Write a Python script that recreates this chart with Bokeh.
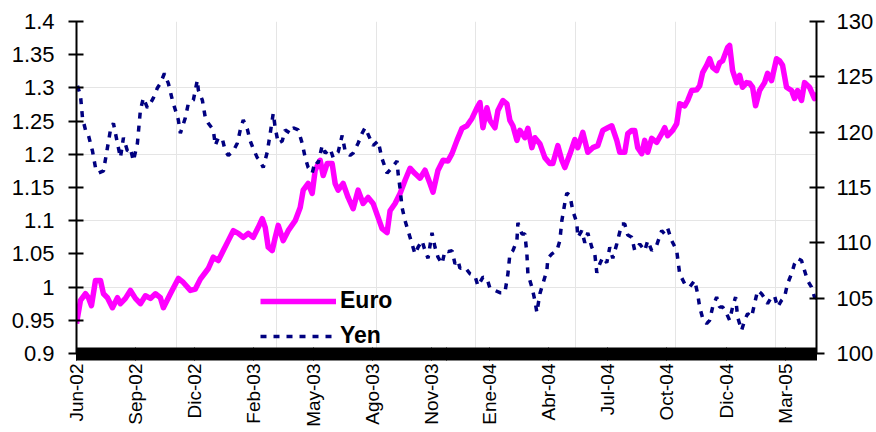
from bokeh.plotting import figure
from bokeh.models import (Range1d, LinearAxis, FixedTicker, CustomJSTickFormatter,
                          Legend, LegendItem)
from bokeh.embed import file_html
from bokeh.resources import INLINE

# ---------------- data ----------------
n_days = 742  # daily observations, Jun-02 .. Apr-05

label_days = [0, 59, 118, 177, 237, 296, 355, 414, 473, 532, 591, 651, 710]
tick_labels = ["Jun-02", "Sep-02", "Dic-02", "Feb-03", "May-03", "Ago-03", "Nov-03",
               "Ene-04", "Abr-04", "Jul-04", "Oct-04", "Dic-04", "Mar-05"]

euro_day = [0, 4, 9, 12, 15, 19, 24, 27, 31, 36, 41, 44, 49, 54, 59, 64, 69, 74, 79, 84,
            87, 94, 102, 107, 114, 119, 124, 129, 132, 137, 142, 147, 152, 157, 162, 167,
            172, 177, 182, 186, 189, 192, 196, 199, 202, 207, 212, 219, 224, 227, 232, 236,
            239, 244, 247, 251, 256, 259, 262, 267, 272, 277, 282, 287, 292, 297, 302, 306,
            311, 314, 319, 324, 329, 334, 339, 344, 349, 354, 357, 362, 367, 372, 376, 381,
            386, 391, 396, 401, 404, 407, 411, 414, 419, 422, 427, 431, 434, 437, 441, 444,
            449, 452, 456, 459, 464, 469, 474, 477, 482, 486, 489, 494, 499, 502, 507, 512,
            517, 522, 527, 532, 536, 541, 544, 549, 552, 556, 559, 562, 566, 569, 572, 576,
            581, 586, 589, 592, 597, 601, 604, 609, 612, 616, 621, 624, 627, 631, 634, 637,
            641, 644, 647, 652, 654, 657, 661, 664, 667, 671, 674, 677, 680, 684, 689, 692,
            696, 701, 704, 707, 711, 716, 719, 722, 726, 729, 734, 739, 741]
euro = [0.945, 0.980, 0.990, 0.984, 0.972, 1.010, 1.010, 0.990, 0.984, 0.969, 0.984, 0.975,
        0.983, 0.995, 0.983, 0.975, 0.987, 0.983, 0.990, 0.984, 0.969, 0.990, 1.013, 1.007,
        0.995, 0.997, 1.012, 1.022, 1.028, 1.045, 1.040, 1.055, 1.070, 1.085, 1.081, 1.075,
        1.081, 1.075, 1.090, 1.103, 1.090, 1.060, 1.055, 1.075, 1.093, 1.070, 1.085, 1.100,
        1.120, 1.146, 1.156, 1.141, 1.176, 1.191, 1.168, 1.186, 1.186, 1.156, 1.146, 1.156,
        1.135, 1.118, 1.146, 1.126, 1.135, 1.126, 1.105, 1.088, 1.082, 1.115, 1.126, 1.141,
        1.161, 1.179, 1.171, 1.164, 1.176, 1.156, 1.143, 1.176, 1.191, 1.190, 1.201, 1.221,
        1.239, 1.243, 1.254, 1.270, 1.278, 1.240, 1.270, 1.251, 1.240, 1.266, 1.281, 1.276,
        1.251, 1.243, 1.221, 1.236, 1.225, 1.239, 1.210, 1.225, 1.216, 1.195, 1.186, 1.186,
        1.213, 1.191, 1.180, 1.200, 1.222, 1.210, 1.233, 1.203, 1.210, 1.213, 1.236, 1.240,
        1.243, 1.221, 1.203, 1.203, 1.231, 1.236, 1.236, 1.210, 1.201, 1.221, 1.203, 1.224,
        1.218, 1.231, 1.240, 1.228, 1.236, 1.246, 1.276, 1.273, 1.281, 1.296, 1.297, 1.303,
        1.323, 1.334, 1.344, 1.331, 1.326, 1.338, 1.341, 1.361, 1.364, 1.326, 1.308, 1.319,
        1.301, 1.308, 1.307, 1.301, 1.273, 1.296, 1.308, 1.322, 1.311, 1.344, 1.341, 1.334,
        1.301, 1.296, 1.284, 1.296, 1.281, 1.308, 1.301, 1.284, 1.293]

yen_day = [1, 4, 6, 9, 12, 16, 19, 22, 27, 31, 34, 37, 41, 44, 47, 51, 54, 57, 61, 64, 67,
           71, 74, 77, 81, 84, 88, 92, 96, 99, 102, 104, 109, 112, 117, 121, 122, 126, 129,
           132, 137, 139, 142, 146, 149, 152, 157, 161, 164, 167, 171, 174, 177, 181, 184,
           187, 191, 194, 197, 199, 202, 206, 209, 214, 217, 222, 226, 229, 232, 236, 239,
           242, 246, 249, 254, 257, 262, 266, 269, 274, 277, 282, 286, 289, 294, 297, 302,
           306, 311, 316, 321, 322, 324, 326, 329, 332, 336, 339, 342, 346, 349, 352, 356,
           359, 362, 366, 369, 372, 376, 379, 382, 384, 389, 394, 399, 402, 407, 411, 414,
           419, 424, 429, 432, 434, 437, 441, 442, 446, 449, 451, 452, 456, 459, 461, 464,
           467, 471, 472, 476, 481, 484, 486, 489, 491, 494, 497, 501, 502, 506, 509, 512,
           516, 519, 521, 524, 527, 531, 534, 537, 541, 546, 549, 552, 556, 559, 564, 569,
           572, 576, 581, 586, 589, 592, 596, 601, 604, 609, 614, 619, 622, 624, 627, 631,
           634, 637, 641, 644, 647, 651, 654, 657, 660, 662, 666, 669, 672, 676, 679, 682,
           686, 689, 692, 696, 699, 702, 706, 709, 712, 716, 719, 722, 726, 729, 732, 736,
           739, 741]
yen = [124.2, 123.3, 121.3, 120.2, 119.7, 118.3, 116.8, 116.3, 116.5, 118.6, 120.2, 120.8,
       119.0, 117.7, 119.5, 118.3, 118.5, 117.4, 119.0, 122.0, 123.1, 122.2, 122.6, 123.1,
       124.0, 124.4, 125.3, 124.4, 122.9, 122.0, 121.1, 119.9, 121.3, 122.6, 122.9, 124.7,
       123.8, 122.9, 121.3, 120.8, 120.2, 118.8, 119.5, 119.4, 118.3, 117.9, 118.3, 119.0,
       120.2, 121.1, 120.3, 119.2, 118.5, 117.7, 117.4, 116.8, 118.2, 119.9, 121.7, 120.4,
       119.0, 119.2, 120.2, 119.9, 120.4, 120.2, 119.0, 117.7, 116.8, 116.3, 117.4, 117.2,
       118.8, 118.1, 118.5, 117.7, 118.2, 119.7, 118.3, 117.9, 118.1, 119.0, 119.9, 120.4,
       119.4, 118.8, 119.2, 117.6, 116.3, 116.8, 117.4, 116.3, 114.9, 113.2, 112.0, 111.1,
       109.9, 109.0, 109.6, 110.2, 109.3, 108.6, 110.9, 109.6, 108.7, 108.1, 109.3, 109.2,
       109.3, 108.1, 108.4, 107.7, 107.8, 107.2, 107.0, 106.1, 106.9, 106.8, 105.9, 105.7,
       105.5, 105.5, 107.2, 109.0, 109.3, 110.2, 111.8, 110.8, 110.8, 109.0, 107.2, 106.0,
       104.8, 103.7, 105.4, 106.3, 107.5, 108.6, 109.0, 109.3, 110.2, 112.0, 113.6, 114.5,
       114.3, 112.9, 111.8, 110.5, 111.1, 110.0, 110.9, 109.6, 109.0, 107.3, 108.1, 108.7,
       108.2, 109.6, 108.6, 109.9, 111.7, 111.7, 110.7, 110.5, 109.3, 109.9, 109.3, 110.2,
       109.3, 109.8, 111.1, 110.8, 111.3, 110.2, 109.3, 107.2, 106.3, 106.0, 106.6, 105.4,
       104.2, 103.2, 102.7, 103.0, 104.2, 105.1, 104.2, 104.2, 103.6, 103.0, 104.2, 105.1,
       103.3, 102.1, 103.0, 103.6, 103.3, 104.5, 105.7, 105.4, 105.0, 104.5, 105.1, 105.2,
       104.2, 104.8, 105.1, 106.3, 107.2, 108.1, 108.6, 108.4, 107.5, 106.6, 106.0, 105.1,
       105.0]

euro_ticks = [0.9, 0.95, 1.0, 1.05, 1.1, 1.15, 1.2, 1.25, 1.3, 1.35, 1.4]
yen_ticks = [100, 105, 110, 115, 120, 125, 130]

# ---------------- figure ----------------
FONT = "Liberation Sans"

p = figure(width=876, height=432, output_backend="svg", toolbar_location=None,
           x_range=Range1d(0, n_days - 1), y_range=Range1d(0.9, 1.4),
           x_axis_location=None, y_axis_location=None,
           min_border_left=76, min_border_right=59, min_border_top=21, min_border_bottom=79)
p.outline_line_color = None
p.background_fill_color = "white"
p.border_fill_color = "white"
p.extra_y_ranges = {"yen": Range1d(100, 130)}

# bottom axis: label every ~59 days, one small tick per day
xaxis = LinearAxis(ticker=FixedTicker(ticks=label_days, minor_ticks=list(range(n_days))),
                   major_label_overrides={d: s for d, s in zip(label_days, tick_labels)})
xaxis.major_label_orientation = 1.5707963
xaxis.axis_line_color = "black"
xaxis.axis_line_width = 2
xaxis.major_tick_in = 6
xaxis.major_tick_out = 7
xaxis.minor_tick_in = 6
xaxis.minor_tick_out = 7
xaxis.major_tick_line_color = "black"
xaxis.minor_tick_line_color = "black"
xaxis.major_label_standoff = 3
xaxis.major_label_text_font = FONT
xaxis.major_label_text_font_size = "19px"
xaxis.major_label_text_color = "black"
p.add_layout(xaxis, "below")

fmt = CustomJSTickFormatter(code="return String(Math.round(tick * 100) / 100);")

yleft = LinearAxis(ticker=FixedTicker(ticks=euro_ticks), formatter=fmt)
yright = LinearAxis(ticker=FixedTicker(ticks=yen_ticks), y_range_name="yen")
for ax in (yleft, yright):
    ax.axis_line_color = "black"
    ax.axis_line_width = 2
    ax.major_tick_line_color = "black"
    ax.major_tick_line_width = 2
    ax.major_tick_in = 7
    ax.major_tick_out = 8
    ax.minor_tick_line_color = None
    ax.major_label_text_font = FONT
    ax.major_label_text_font_size = "22px"
    ax.major_label_text_color = "black"
yleft.major_label_standoff = 14
yright.major_label_standoff = 12
p.add_layout(yleft, "left")
p.add_layout(yright, "right")

r_euro = p.line(euro_day, euro, line_color="#FF00FF", line_width=5.5, line_join="round")
r_yen = p.line(yen_day, yen, y_range_name="yen", line_color="#000080", line_width=3.5,
               line_dash="6 7")

legend = Legend(items=[LegendItem(label="Euro", renderers=[r_euro]),
                       LegendItem(label="Yen", renderers=[r_yen])],
                location=(184, 4))
legend.background_fill_alpha = 0
legend.border_line_alpha = 0
legend.padding = 0
legend.margin = 0
legend.glyph_width = 76
legend.glyph_height = 24
legend.label_height = 24
legend.spacing = 8
legend.label_standoff = 4
legend.label_text_font = FONT
legend.label_text_font_size = "23px"
legend.label_text_font_style = "bold"
legend.label_text_color = "black"
p.add_layout(legend)

open("out.html", "w").write(file_html(p, INLINE))
